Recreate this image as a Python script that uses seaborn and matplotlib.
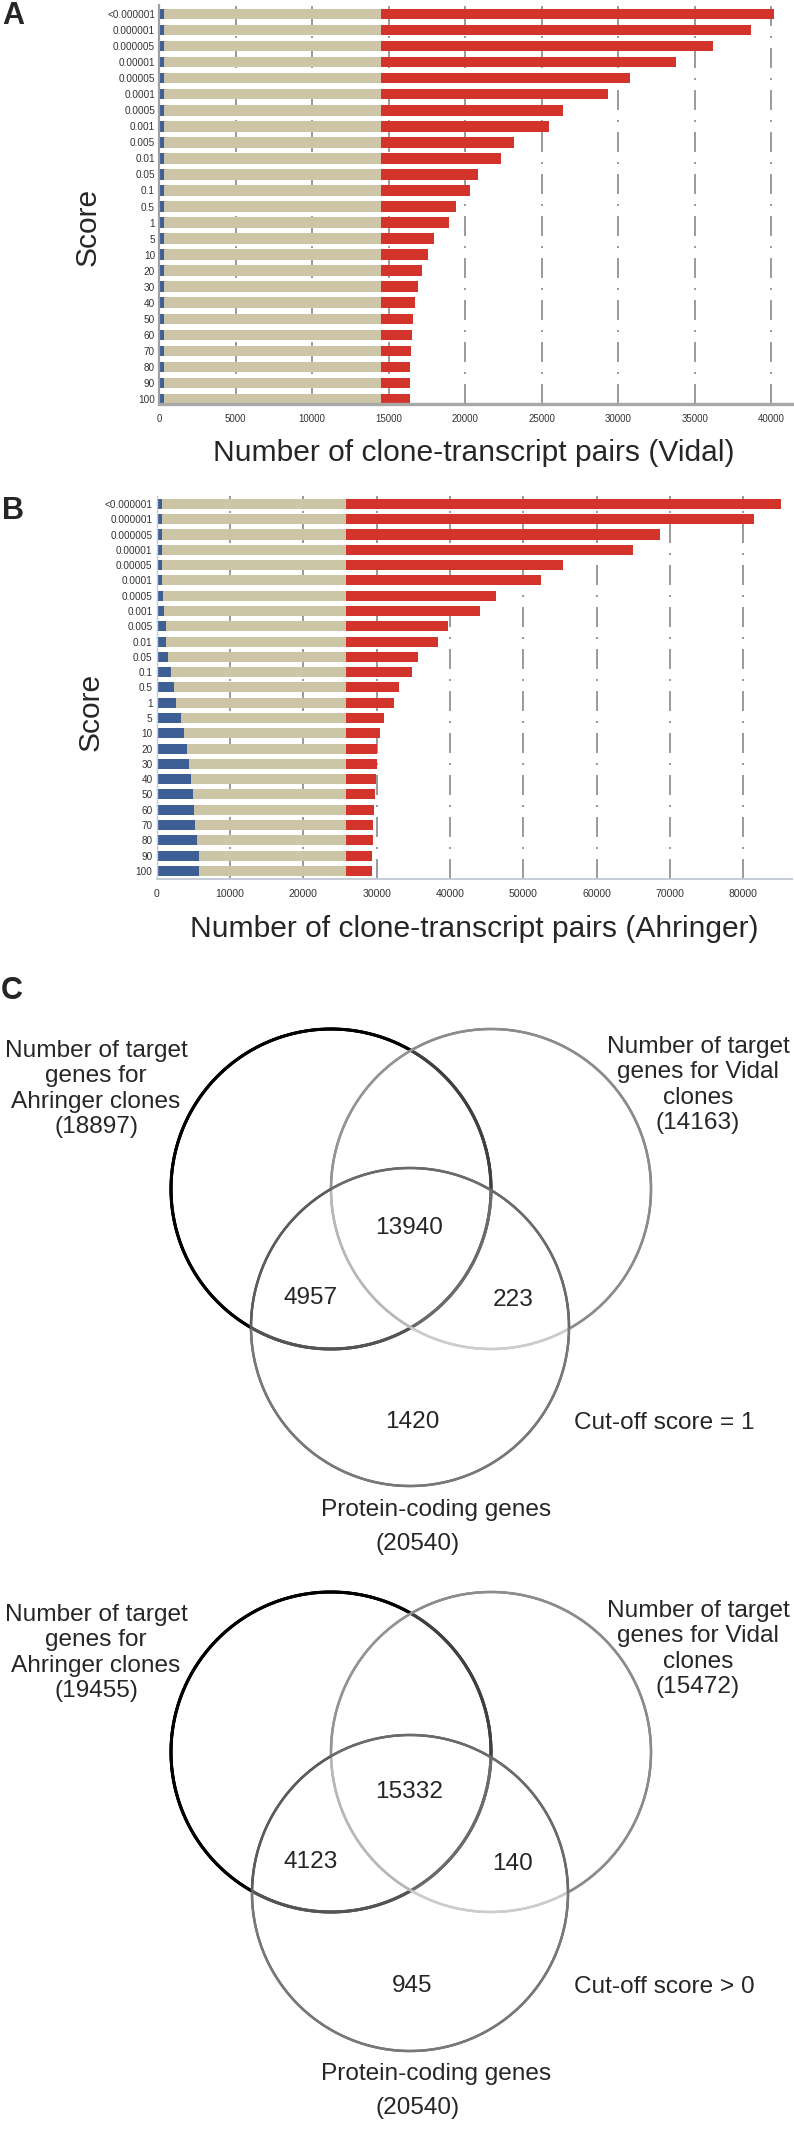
import numpy as np
import pandas as pd
import matplotlib
matplotlib.use("Agg")
import matplotlib.pyplot as plt
from matplotlib.collections import LineCollection
import seaborn as sns

# score cut-offs (rows of panels A and B)
scores = ["<0.000001", "0.000001", "0.000005", "0.00001", "0.00005", "0.0001",
          "0.0005", "0.001", "0.005", "0.01", "0.05", "0.1", "0.5", "1", "5",
          "10", "20", "30", "40", "50", "60", "70", "80", "90", "100"]

# panel A (Vidal): cumulative ends of the blue, tan and red segments
vidal_total = [40200, 38700, 36200, 33750, 30800, 29350, 26400, 25450, 23200,
               22350, 20850, 20300, 19400, 18950, 17950, 17550, 17150, 16900,
               16750, 16600, 16550, 16450, 16400, 16400, 16400]
vidal_mid = [14480, 14480, 14480, 14480, 14480, 14480, 14480, 14480, 14480,
             14480, 14480, 14480, 14480, 14480, 14480, 14480, 14480, 14480,
             14480, 14480, 14480, 14480, 14480, 14480, 14480]
vidal_blue = [300, 300, 300, 300, 300, 300, 300, 300, 300, 300, 300, 300, 300,
              300, 300, 300, 300, 300, 300, 300, 310, 310, 310, 310, 310]

# panel B (Ahringer)
ahringer_total = [85200, 81500, 68600, 64900, 55450, 52350, 46300, 44100, 39750,
                  38300, 35650, 34750, 33100, 32350, 30950, 30450, 30100, 30050,
                  29900, 29750, 29650, 29550, 29450, 29350, 29350]
ahringer_mid = [25810, 25810, 25810, 25810, 25810, 25810, 25810, 25810, 25810,
                25810, 25810, 25810, 25810, 25810, 25810, 25810, 25810, 25810,
                25810, 25810, 25810, 25810, 25810, 25810, 25810]
ahringer_blue = [680, 680, 720, 720, 760, 760, 900, 950, 1230, 1280, 1550, 1910,
                 2390, 2670, 3350, 3710, 4120, 4390, 4610, 4950, 5150, 5290,
                 5450, 5730, 5810]

vidal_ticks = [0, 5000, 10000, 15000, 20000, 25000, 30000, 35000, 40000]
ahringer_ticks = [0, 10000, 20000, 30000, 40000, 50000, 60000, 70000, 80000]

# panel C: set sizes (Ahringer, Vidal, protein-coding) and region counts
cut1_sets = [18897, 14163, 20540]
cut1_regions = [13940, 4957, 223, 1420]
cut0_sets = [19455, 15472, 20540]
cut0_regions = [15332, 4123, 140, 945]

RED = "#d2332a"
TAN = "#cdc6a6"
BLUE = "#3d5f96"
GRID = "#9c9c9c"

W, H = 794, 2131

sns.set_theme(style="white")
plt.rcParams["font.family"] = ["Liberation Sans", "DejaVu Sans"]


def fig_rect(x0, y0, x1, y1):
    return [x0 / W, 1 - y1 / H, (x1 - x0) / W, (y1 - y0) / H]


def draw_bars(ax, total, mid, blue, xmax, ticks, ylims, tick_size):
    df = pd.DataFrame({"score": scores, "total": total, "mid": mid, "blue": blue})
    for col, c in [("total", RED), ("mid", TAN), ("blue", BLUE)]:
        sns.barplot(data=df, x=col, y="score", color=c, width=0.66,
                    saturation=1, linewidth=0, ax=ax)
    ax.set_xlim(0, xmax)
    ax.set_ylim(*ylims)
    ax.set_xticks(ticks)
    ax.set_xticklabels([str(t) for t in ticks])
    ax.set_xlabel("")
    ax.set_ylabel("")
    ax.set_axisbelow(True)
    ax.xaxis.grid(True, color=GRID, linewidth=1.44, linestyle=(0, (10, 5, 1, 5)))
    ax.yaxis.grid(False)
    ax.tick_params(axis="both", length=0, colors="#333333")
    ax.tick_params(axis="y", labelsize=7.2, pad=3)
    ax.tick_params(axis="x", labelsize=tick_size, pad=7)
    for s in ["top", "right"]:
        ax.spines[s].set_visible(False)


fig = plt.figure(figsize=(W / 100, H / 100), dpi=100)

axA = fig.add_axes(fig_rect(159.2, 5, 792, 404))
draw_bars(axA, vidal_total, vidal_mid, vidal_blue, 41360, vidal_ticks,
          (24.31, -0.56), 7.0)
axA.spines["bottom"].set_color("#a8a8a8")
axA.spines["bottom"].set_linewidth(2.4)
axA.spines["left"].set_color("#a0a0a0")
axA.spines["left"].set_linewidth(1.6)

axB = fig.add_axes(fig_rect(156.7, 496, 792, 879))
draw_bars(axB, ahringer_total, ahringer_mid, ahringer_blue, 86640, ahringer_ticks,
          (24.53, -0.52), 7.6)
axB.spines["bottom"].set_color("#c4ccd6")
axB.spines["bottom"].set_linewidth(1.4)
axB.spines["left"].set_color("#c4ccd6")
axB.spines["left"].set_linewidth(1.0)

# overlay in pixel coordinates for labels and the Venn diagrams
ov = fig.add_axes([0, 0, 1, 1])
ov.set_xlim(0, W)
ov.set_ylim(H, 0)
ov.axis("off")

ov.text(13.5, 16, "A", fontsize=22, fontweight="bold", ha="center", va="center")
ov.text(12.5, 511, "B", fontsize=22, fontweight="bold", ha="center", va="center")
ov.text(11.5, 991, "C", fontsize=22, fontweight="bold", ha="center", va="center")

ov.text(88, 227, "Score", fontsize=21.6, rotation=90, ha="center", va="center")
ov.text(91, 712, "Score", fontsize=21.6, rotation=90, ha="center", va="center")
ov.text(474, 453, "Number of clone-transcript pairs (Vidal)", fontsize=21.6,
        ha="center", va="center")
ov.text(474.5, 929, "Number of clone-transcript pairs (Ahringer)", fontsize=21.6,
        ha="center", va="center")

# grey level of each circle's outline, depending on which other circles it crosses
shades = [
    {(): 0.0, (1,): 0.25, (2,): 0.33, (1, 2): 0.42},
    {(): 0.55, (0,): 0.58, (2,): 0.8, (0, 2): 0.72},
    {(): 0.47, (0,): 0.36, (1,): 0.42, (0, 1): 0.42},
]
widths = [2.2, 1.8, 1.8]


def draw_venn(ax, circles):
    t = np.linspace(0, 2 * np.pi, 1081)
    for i, (cx, cy, r) in enumerate(circles):
        pts = np.column_stack([cx + r * np.cos(t), cy + r * np.sin(t)])
        segs = np.stack([pts[:-1], pts[1:]], axis=1)
        mids = (pts[:-1] + pts[1:]) / 2
        cols = []
        for mx, my in mids:
            key = tuple(j for j, (ox, oy, orr) in enumerate(circles)
                        if j != i and (mx - ox) ** 2 + (my - oy) ** 2 < orr ** 2)
            cols.append(str(shades[i][key]))
        ax.add_collection(LineCollection(segs, colors=cols, linewidths=widths[i],
                                         capstyle="round"))


def venn_text(ax, dy, sets, regions, cutoff):
    fs = 17.6
    ax.text(96, 1089 + dy, "Number of target\ngenes for\nAhringer clones\n(%d)" % sets[0],
            fontsize=fs, ha="center", va="center", linespacing=1.2)
    ax.text(698, 1085 + dy, "Number of target\ngenes for Vidal\nclones\n(%d)" % sets[1],
            fontsize=fs, ha="center", va="center", linespacing=1.2)
    ax.text(409, 1228 + dy, str(regions[0]), fontsize=fs, ha="center", va="center")
    ax.text(311, 1298 + dy, str(regions[1]), fontsize=fs, ha="center", va="center")
    ax.text(513, 1300 + dy, str(regions[2]), fontsize=fs, ha="center", va="center")
    ax.text(412, 1422 + dy, str(regions[3]), fontsize=fs, ha="center", va="center")
    ax.text(664, 1423 + dy, cutoff, fontsize=fs, ha="center", va="center")
    ax.text(436, 1510 + dy, "Protein-coding genes", fontsize=fs, ha="center", va="center")
    ax.text(418, 1544 + dy, "(%d)" % sets[2], fontsize=fs, ha="center", va="center")


draw_venn(ov, [(331, 1189, 160), (491, 1189, 160), (410, 1327, 159)])
venn_text(ov, 0, cut1_sets, cut1_regions, "Cut-off score = 1")

draw_venn(ov, [(331, 1752, 160), (491, 1752, 160), (410, 1893, 158)])
venn_text(ov, 564, cut0_sets, cut0_regions, "Cut-off score > 0")

fig.savefig("out.png", dpi=100)
